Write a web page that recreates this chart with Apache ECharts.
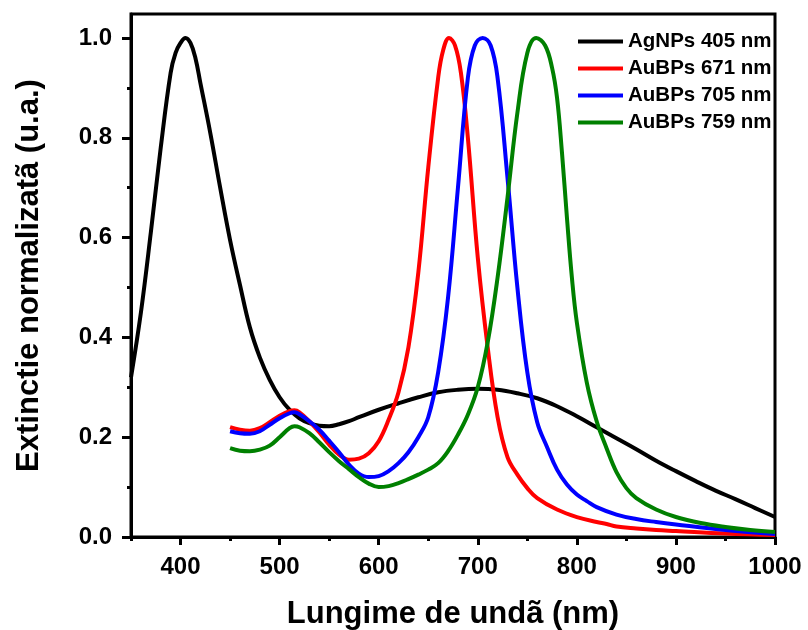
<!DOCTYPE html>
<html>
<head>
<meta charset="utf-8">
<script src="https://cdn.jsdelivr.net/npm/echarts@6/dist/echarts.min.js"></script>
<style>
  html, body { margin: 0; padding: 0; background: #fff; }
  #chart { width: 808px; height: 630px; }
</style>
</head>
<body>
<div id="chart"></div>
<script>
// wavelengths (nm) and normalized extinction values
var agWl  = [350, 360, 370, 380, 390, 395, 400, 405, 410, 415, 420, 430, 440, 450, 460, 470, 480, 490, 500, 510, 520, 530, 540, 550, 560, 570, 580, 600, 620, 640, 660, 680, 700, 720, 740, 760, 780, 800, 820, 840, 860, 880, 900, 920, 940, 960, 980, 1000]
var agAbs = [0.32, 0.45, 0.61, 0.78, 0.93, 0.97, 0.99, 1.0, 0.99, 0.96, 0.91, 0.81, 0.70, 0.595, 0.505, 0.42, 0.36, 0.315, 0.28, 0.255, 0.238, 0.228, 0.223, 0.222, 0.226, 0.232, 0.24, 0.255, 0.268, 0.28, 0.29, 0.295, 0.297, 0.295, 0.288, 0.278, 0.262, 0.242, 0.22, 0.198, 0.176, 0.153, 0.132, 0.112, 0.093, 0.076, 0.058, 0.04]

var bp671Wl  = [450, 460, 470, 480, 490, 500, 510, 515, 520, 530, 540, 550, 560, 570, 580, 590, 600, 610, 620, 630, 640, 650, 660, 665, 671, 677, 683, 690, 700, 710, 720, 730, 740, 750, 760, 780, 800, 820, 830, 840, 860, 880, 900, 950, 1000]
var bp671Abs = [0.22, 0.215, 0.213, 0.218, 0.23, 0.243, 0.252, 0.254, 0.25, 0.232, 0.21, 0.185, 0.165, 0.155, 0.157, 0.168, 0.192, 0.235, 0.29, 0.38, 0.53, 0.74, 0.92, 0.975, 1.0, 0.985, 0.93, 0.80, 0.56, 0.38, 0.24, 0.16, 0.125, 0.098, 0.078, 0.055, 0.04, 0.03, 0.026, 0.021, 0.017, 0.014, 0.012, 0.007, 0.004]

var bp705Wl  = [450, 460, 470, 480, 490, 500, 510, 515, 520, 530, 540, 550, 560, 570, 580, 590, 600, 610, 620, 630, 640, 650, 660, 670, 680, 690, 697, 705, 713, 720, 730, 740, 750, 760, 770, 780, 790, 800, 810, 820, 840, 860, 880, 900, 950, 1000]
var bp705Abs = [0.212, 0.208, 0.207, 0.212, 0.225, 0.238, 0.248, 0.25, 0.246, 0.232, 0.215, 0.193, 0.17, 0.145, 0.127, 0.12, 0.122, 0.132, 0.148, 0.17, 0.2, 0.24, 0.33, 0.48, 0.70, 0.92, 0.985, 1.0, 0.985, 0.92, 0.72, 0.50, 0.33, 0.23, 0.18, 0.135, 0.105, 0.085, 0.072, 0.06, 0.045, 0.036, 0.03, 0.025, 0.014, 0.006]

var bp759Wl  = [450, 460, 470, 480, 490, 500, 510, 515, 520, 530, 540, 550, 560, 570, 580, 590, 600, 610, 620, 630, 640, 650, 660, 670, 680, 690, 700, 710, 720, 730, 740, 750, 759, 768, 775, 780, 785, 790, 795, 800, 810, 820, 830, 840, 850, 860, 880, 900, 925, 950, 975, 1000]
var bp759Abs = [0.178, 0.173, 0.172, 0.175, 0.183, 0.2, 0.218, 0.222, 0.22, 0.208, 0.19, 0.17, 0.152, 0.136, 0.12, 0.107, 0.1, 0.102, 0.108, 0.116, 0.125, 0.135, 0.148, 0.172, 0.205, 0.245, 0.30, 0.39, 0.52, 0.68, 0.85, 0.97, 1.0, 0.985, 0.94, 0.88, 0.77, 0.64, 0.52, 0.43, 0.31, 0.232, 0.178, 0.13, 0.098, 0.078, 0.055, 0.04, 0.028, 0.02, 0.014, 0.01]

var xMajor = [400, 500, 600, 700, 800, 900, 1000]
var xMinor = [350, 450, 550, 650, 750, 850, 950]
var yMajor = [0, 0.2, 0.4, 0.6, 0.8, 1.0]
var yMinor = [0.1, 0.3, 0.5, 0.7, 0.9]

var names  = ['AgNPs 405 nm', 'AuBPs 671 nm', 'AuBPs 705 nm', 'AuBPs 759 nm']
var colors = ['#000000', '#ff0000', '#0000ff', '#008000']

function pairs(xs, ys) {
  return xs.map(function (x, i) { return [x, ys[i]] })
}

var font = 'Liberation Sans, Arial, sans-serif'
var lines = [pairs(agWl, agAbs), pairs(bp671Wl, bp671Abs), pairs(bp705Wl, bp705Abs), pairs(bp759Wl, bp759Abs)]

var chart = echarts.init(document.getElementById('chart'))
chart.setOption({
  animation: false,
  grid: {
    left: 131, right: 33, top: 14, bottom: 93,
    outerBoundsMode: 'none',
    show: true, borderColor: '#000', borderWidth: 3
  },
  legend: {
    orient: 'vertical',
    left: 573, top: 26,
    itemGap: 6,
    icon: 'rect',
    itemWidth: 45, itemHeight: 4,
    data: names,
    textStyle: { fontFamily: font, fontWeight: 'bold', fontSize: 20.5, color: '#000' }
  },
  xAxis: [{
    type: 'value',
    min: 350, max: 1000,
    name: 'Lungime de undã (nm)',
    nameLocation: 'middle',
    nameGap: 62,
    nameTextStyle: { fontFamily: font, fontWeight: 'bold', fontSize: 31, color: '#000' },
    splitLine: { show: false },
    axisLine: { onZero: false, lineStyle: { color: '#000', width: 3 } },
    axisTick: { customValues: xMajor, length: 8, lineStyle: { color: '#000', width: 3 } },
    axisLabel: {
      customValues: xMajor, margin: 18,
      fontFamily: font, fontWeight: 'bold', fontSize: 24, color: '#000',
      formatter: function (v) { return String(v) }
    }
  }, {
    type: 'value',
    position: 'bottom',
    min: 350, max: 1000,
    splitLine: { show: false },
    axisLine: { show: false, onZero: false },
    axisTick: { customValues: xMinor, length: 4, lineStyle: { color: '#000', width: 3 } },
    axisLabel: { show: false }
  }],
  yAxis: [{
    type: 'value',
    min: 0, max: 1.048,
    name: 'Extinctie normalizatã (u.a.)',
    nameLocation: 'middle',
    nameGap: 86,
    nameTextStyle: { fontFamily: font, fontWeight: 'bold', fontSize: 31, color: '#000' },
    splitLine: { show: false },
    axisLine: { show: true, onZero: false, lineStyle: { color: '#000', width: 3 } },
    axisTick: { show: true, customValues: yMajor, length: 9, lineStyle: { color: '#000', width: 3 } },
    axisLabel: {
      customValues: yMajor, margin: 19,
      fontFamily: font, fontWeight: 'bold', fontSize: 24, color: '#000',
      formatter: function (v) { return v.toFixed(1) }
    }
  }, {
    type: 'value',
    position: 'left',
    min: 0, max: 1.048,
    splitLine: { show: false },
    axisLine: { show: false, onZero: false },
    axisTick: { show: true, customValues: yMinor, length: 4, lineStyle: { color: '#000', width: 3 } },
    axisLabel: { show: false }
  }],
  series: lines.map(function (d, i) {
    return {
      name: names[i],
      type: 'line',
      data: d,
      smooth: 0.4,
      showSymbol: false,
      symbol: 'none',
      color: colors[i],
      lineStyle: { color: colors[i], width: 4 }
    }
  })
})
</script>
</body>
</html>
